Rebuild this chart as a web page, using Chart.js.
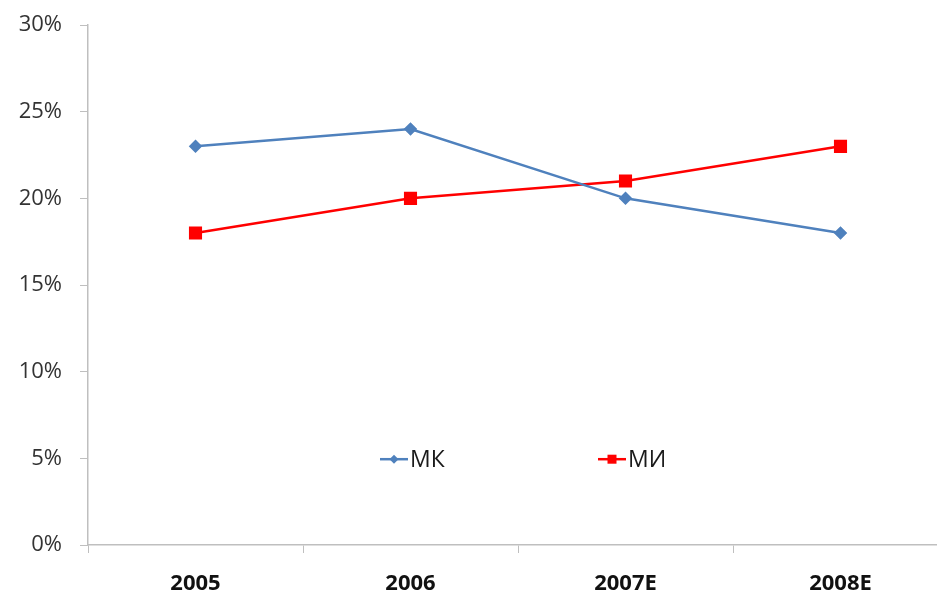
<!DOCTYPE html>
<html>
<head>
<meta charset="utf-8">
<script src="https://cdn.jsdelivr.net/npm/chart.js@4/dist/chart.umd.min.js"></script>
<style>
  html, body { margin: 0; padding: 0; background: #fff; overflow: hidden; }
  #wrap { width: 960px; height: 598px; position: relative; }
</style>
</head>
<body>
<div id="wrap"><canvas id="chart"></canvas></div>
<script>
// Chart data
const categories = ['2005', '2006', '2007E', '2008E'];
const mkValues = [23, 24, 20, 18];
const miValues = [18, 20, 21, 23];
const yTicks = [0, 5, 10, 15, 20, 25, 30];

const FONT = "'Open Sans', 'Noto Sans', sans-serif";
const AXIS_COLOR = '#bfbfbf';

// Legend drawn inside the plot area: line segment + marker + label
const innerLegend = {
  id: 'innerLegend',
  afterDraw(chart) {
    const { ctx, chartArea } = chart;
    const y = chartArea.top + (chartArea.bottom - chartArea.top) * 0.835;
    const starts = [chartArea.left + 292, chartArea.left + 510];
    ctx.save();
    chart.data.datasets.forEach((ds, i) => {
      const x = starts[i];
      ctx.strokeStyle = ds.borderColor;
      ctx.lineWidth = 2.5;
      ctx.beginPath();
      ctx.moveTo(x, y);
      ctx.lineTo(x + 28, y);
      ctx.stroke();
      ctx.fillStyle = ds.backgroundColor;
      if (ds.pointStyle === 'rectRot') {
        ctx.beginPath();
        ctx.moveTo(x + 14, y - 4.5);
        ctx.lineTo(x + 18.5, y);
        ctx.lineTo(x + 14, y + 4.5);
        ctx.lineTo(x + 9.5, y);
        ctx.closePath();
        ctx.fill();
      } else {
        ctx.fillRect(x + 9.5, y - 4.5, 9, 9);
      }
      ctx.fillStyle = '#1a1a1a';
      ctx.font = "23px " + FONT;
      ctx.textBaseline = 'middle';
      ctx.textAlign = 'left';
      ctx.fillText(ds.label, x + 30, y + 1);
    });
    ctx.restore();
  }
};

new Chart(document.getElementById('chart'), {
  type: 'line',
  data: {
    labels: categories,
    datasets: [
      {
        label: 'МК',
        data: mkValues,
        borderColor: '#4f81bd',
        backgroundColor: '#4f81bd',
        borderWidth: 2.5,
        pointStyle: 'rectRot',
        pointRadius: 5,
        pointHoverRadius: 5,
        tension: 0,
      },
      {
        label: 'МИ',
        data: miValues,
        borderColor: '#ff0000',
        backgroundColor: '#ff0000',
        borderWidth: 2.5,
        pointStyle: 'rect',
        pointRadius: 7.5,
        pointHoverRadius: 7.5,
        tension: 0,
      },
    ],
  },
  options: {
    responsive: true,
    maintainAspectRatio: false,
    animation: false,
    layout: { padding: { top: 25, right: 12, left: 0, bottom: 0 } },
    plugins: {
      legend: { display: false },
      tooltip: { enabled: false },
    },
    scales: {
      x: {
        offset: true,
        grid: {
          offset: true,
          drawOnChartArea: false,
          drawTicks: true,
          tickLength: 8,
          color: AXIS_COLOR,
        },
        border: { color: AXIS_COLOR, width: 1.5 },
        ticks: {
          color: '#111',
          padding: 18,
          font: { family: FONT, size: 22, weight: 'bold' },
        },
        afterFit: s => { s.height = 53; },
      },
      y: {
        min: 0,
        max: 30,
        afterBuildTicks: s => { s.ticks = yTicks.map(v => ({ value: v })); },
        grid: {
          drawOnChartArea: false,
          drawTicks: true,
          tickLength: 8,
          color: AXIS_COLOR,
        },
        border: { color: AXIS_COLOR, width: 1.5 },
        ticks: {
          color: '#333',
          padding: 18,
          font: { family: FONT, size: 22 },
          callback: v => v + '%',
        },
        afterFit: s => {
          s.width = 88;
          s.paddingTop = 0;
          s.paddingBottom = 0;
        },
      },
    },
  },
  plugins: [innerLegend],
});
</script>
</body>
</html>
